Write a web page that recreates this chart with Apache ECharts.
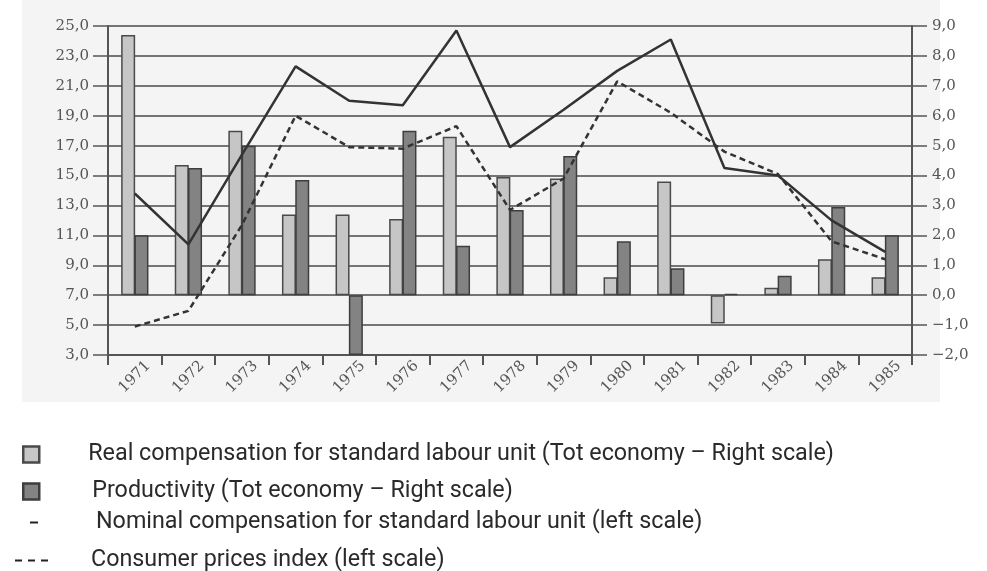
<!DOCTYPE html>
<html>
<head>
<meta charset="utf-8">
<title>Compensation and productivity 1971-1985</title>
<script src="https://cdn.jsdelivr.net/npm/echarts@6/dist/echarts.min.js"></script>
<style>
  html, body { margin: 0; padding: 0; background: #ffffff; }
  #main { width: 987px; height: 571px; }
</style>
</head>
<body>
<div id="main"></div>
<script>
// data
var years = ['1971', '1972', '1973', '1974', '1975', '1976', '1977', '1978',
             '1979', '1980', '1981', '1982', '1983', '1984', '1985'];
// bars, right scale
var realComp = [8.7, 4.35, 5.5, 2.7, 2.7, 2.55, 5.3, 3.95, 3.9, 0.6, 3.8, -0.95, 0.25, 1.2, 0.6];
var productivity = [2.0, 4.25, 5.0, 3.85, -2.0, 5.5, 1.65, 2.85, 4.65, 1.8, 0.9, 0.05, 0.65, 2.95, 2.0];
// lines, left scale
var nominalComp = [13.8, 10.4, 16.4, 22.3, 20.0, 19.7, 24.7, 16.9, 19.4, 22.0, 24.1, 15.5, 15.0, 12.0, 9.9];
var cpi = [4.9, 5.95, 11.7, 19.0, 16.9, 16.8, 18.3, 12.7, 14.8, 21.3, 19.2, 16.6, 15.1, 10.6, 9.4];

var names = [
    'Real compensation for standard labour unit (Tot economy \u2013 Right scale)',
    'Productivity (Tot economy \u2013 Right scale)',
    'Nominal compensation for standard labour unit (left scale)',
    'Consumer prices index (left scale)'
];

function fmt(v) {
    var s = Math.abs(v).toFixed(1).replace('.', ',');
    return v < 0 ? '\u2212' + s : s;
}

var axisColor = '#555';
var serif = 'DejaVu Serif';
var legendFont = { fontFamily: 'Roboto', fontSize: 23.3, color: '#2a2a2a' };

var myChart = echarts.init(document.getElementById('main'));

var option = {
    animation: false,
    backgroundColor: '#ffffff',
    graphic: [{
        type: 'rect',
        z: -10,
        shape: { x: 22, y: 0, width: 918, height: 402 },
        style: { fill: '#f4f4f4' }
    }],
    grid: { left: 108, right: 75, top: 26, bottom: 216 },
    legend: [
        { left: 17, top: 438, data: [names[0]], icon: 'rect', itemWidth: 16, itemHeight: 16,
          itemStyle: { borderWidth: 2.5 },
          textStyle: Object.assign({ padding: [0, 0, 0, 44] }, legendFont) },
        { left: 17, top: 475, data: [names[1]], icon: 'rect', itemWidth: 16, itemHeight: 16,
          itemStyle: { borderWidth: 2.5 },
          textStyle: Object.assign({ padding: [0, 0, 0, 48] }, legendFont) },
        { left: 25, top: 506, data: [names[2]], itemWidth: 8, itemHeight: 2,
          icon: 'path://M0,0h8v2h-8z',
          itemStyle: { color: '#222', borderWidth: 0 },
          textStyle: Object.assign({ padding: [0, 0, 0, 53] }, legendFont) },
        { left: 10, top: 544, data: [names[3]], itemWidth: 33, itemHeight: 2,
          icon: 'path://M0,0h7v2h-7zM13,0h7v2h-7zM26,0h7v2h-7z',
          itemStyle: { color: '#222', borderWidth: 0 },
          textStyle: Object.assign({ padding: [0, 0, 0, 38] }, legendFont) }
    ],
    xAxis: {
        type: 'category',
        data: years,
        boundaryGap: true,
        axisLine: { show: true, onZero: false, lineStyle: { color: axisColor, width: 2 } },
        axisTick: { show: true, length: 10, lineStyle: { color: axisColor, width: 2 } },
        axisLabel: { rotate: 45, margin: 22, align: 'center', verticalAlign: 'middle',
                     fontFamily: serif, fontSize: 15, color: '#555' }
    },
    yAxis: [
        {
            type: 'value', position: 'left',
            min: 3, max: 25, interval: 2,
            axisLine: { show: true, lineStyle: { color: axisColor, width: 2 } },
            axisTick: { show: true, length: 15, lineStyle: { color: axisColor, width: 1.5 } },
            axisLabel: { margin: 19, formatter: fmt, fontFamily: serif, fontSize: 15, color: '#555' },
            splitLine: { show: true, lineStyle: { color: '#4a4a4a', width: 1.5 } }
        },
        {
            type: 'value', position: 'right',
            min: -2, max: 9, interval: 1,
            axisLine: { show: true, lineStyle: { color: axisColor, width: 2 } },
            axisTick: { show: true, length: 15, lineStyle: { color: axisColor, width: 1.5 } },
            axisLabel: { margin: 20, formatter: fmt, fontFamily: serif, fontSize: 15, color: '#555' },
            splitLine: { show: false }
        }
    ],
    series: [
        {
            name: names[0], type: 'bar', yAxisIndex: 1,
            data: realComp, barWidth: 14, barGap: '-5%',
            itemStyle: { color: '#c6c6c6', borderColor: '#4a4a4a', borderWidth: 1.5 }
        },
        {
            name: names[1], type: 'bar', yAxisIndex: 1,
            data: productivity, barWidth: 14,
            itemStyle: { color: '#838383', borderColor: '#3e3e3e', borderWidth: 1.5 }
        },
        {
            name: names[2], type: 'line', yAxisIndex: 0,
            data: nominalComp, symbol: 'none', z: 5,
            lineStyle: { color: '#333', width: 2.5 },
            itemStyle: { color: '#333' }
        },
        {
            name: names[3], type: 'line', yAxisIndex: 0,
            data: cpi, symbol: 'none', z: 5,
            lineStyle: { color: '#333', width: 2.5, type: [6, 4] },
            itemStyle: { color: '#333' }
        }
    ]
};

myChart.setOption(option);
</script>
</body>
</html>
